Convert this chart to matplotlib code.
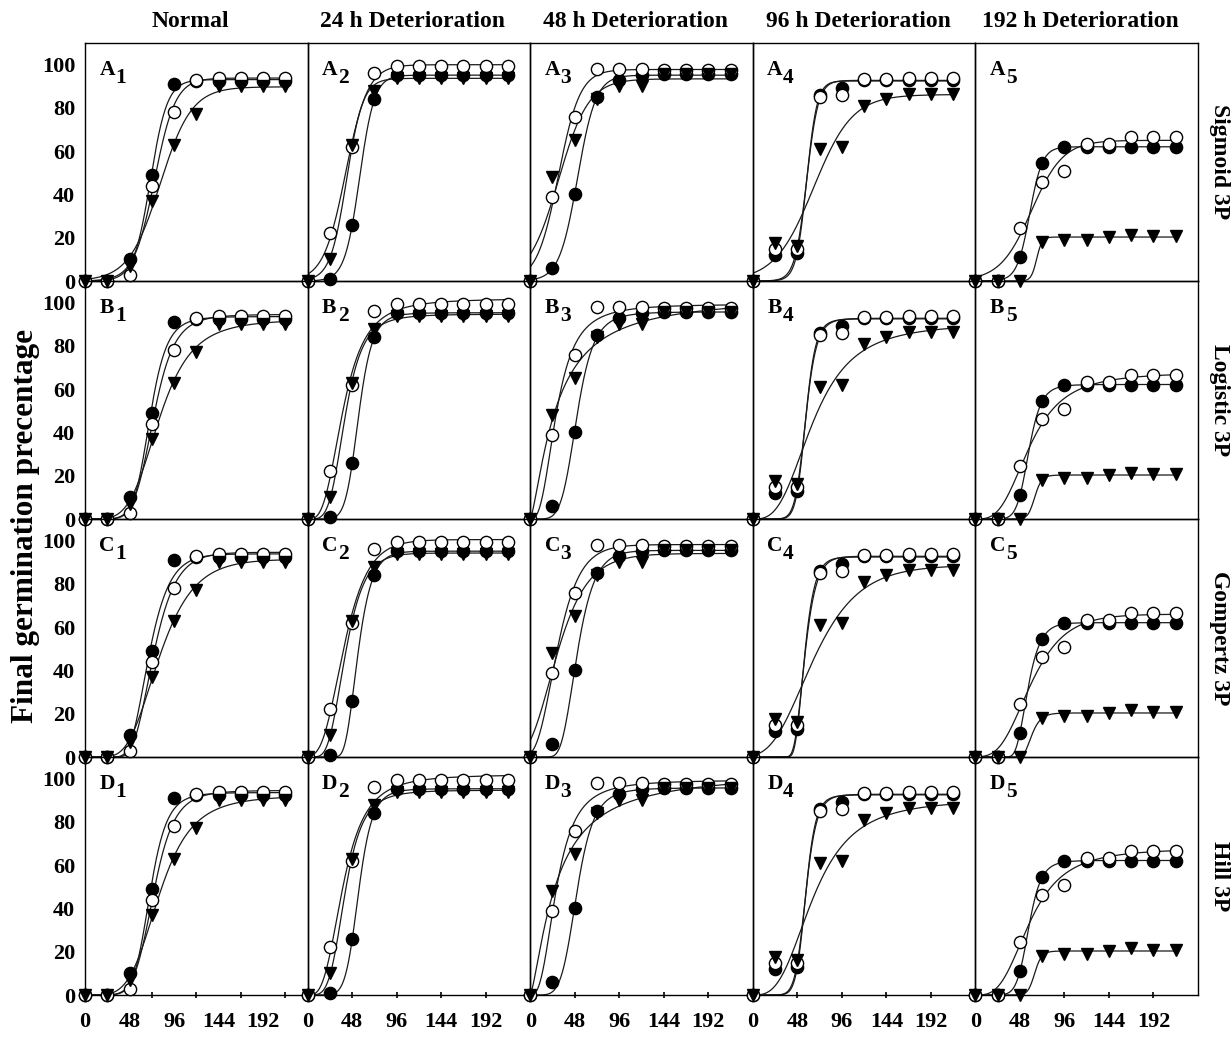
import numpy as np
import matplotlib
matplotlib.use("Agg")
import matplotlib.pyplot as plt
from matplotlib.gridspec import GridSpec
from matplotlib.transforms import offset_copy

plt.rcParams['font.family'] = 'Liberation Serif'
plt.rcParams['font.weight'] = 'bold'

hours = np.array([0, 24, 48, 72, 96, 120, 144, 168, 192, 216])

col_titles = ["Normal", "24 h Deterioration", "48 h Deterioration",
              "96 h Deterioration", "192 h Deterioration"]
row_models = ["Sigmoid 3P", "Logistic 3P", "Gompertz 3P", "Hill 3P"]
row_letters = ["A", "B", "C", "D"]

# filled circles
filled_normal = [0, 0, 10, 49, 91, 92.5, 92.5, 92.5, 92.5, 92.5]
filled_24h = [0, 1, 26, 84, 95, 95, 95, 95, 95, 95]
filled_48h = [0, 6, 40, 85, 93, 95, 95.5, 95.5, 95.5, 95.5]
filled_96h = [0, 12, 13, 86, 89, 93, 93, 93, 93, 93]
filled_192h = [0, 0, 11, 54.5, 62, 62, 62, 62, 62, 62]

# open circles
open_normal = [0, 0, 3, 44, 78, 93, 94, 94, 94, 94]
open_24h = [0, 22, 62, 96, 99.5, 99.5, 99.5, 99.5, 99.5, 99.5]
open_48h = [0, 39, 76, 98, 98, 98, 97.5, 97.5, 97.5, 97.5]
open_96h = [0, 15, 15, 85, 86, 93.5, 93.5, 94, 94, 94]
open_192h = [0, 0, 24.5, 46, 51, 63.5, 63.5, 66.5, 66.5, 66.5]

# filled down-triangles
tri_normal = [0, 0, 7, 37, 63, 77, 90, 90, 90, 90]
tri_24h = [0, 10, 63, 88, 94, 94, 94, 94, 94, 94]
tri_48h = [0, 48, 65, 84, 90, 90, 95.5, 95.5, 95.5, 95.5]
tri_96h = [0, 17.5, 16, 61, 62, 81, 84, 86.5, 86.5, 86.5]
tri_192h = [0, 0, 0, 18, 19, 19, 20.5, 21.5, 21, 21]

filled = [filled_normal, filled_24h, filled_48h, filled_96h, filled_192h]
opened = [open_normal, open_24h, open_48h, open_96h, open_192h]
tris = [tri_normal, tri_24h, tri_48h, tri_96h, tri_192h]


# ---- 3-parameter models, fitted to the points by a simple grid search ----
def sigmoid(x, x0, b):
    return 1.0 / (1.0 + np.exp(-(x - x0) / b))


def gompertz(x, x0, b):
    return np.exp(-np.exp(-(x - x0) / b))


def hill(x, c, b):
    return x**b / (c**b + x**b)


models = [(sigmoid, np.geomspace(2.5, 60, 200)),
          (hill, np.geomspace(1.0, 25, 200)),       # SigmaPlot Logistic 3P
          (gompertz, np.geomspace(2.5, 60, 200)),
          (hill, np.geomspace(1.0, 25, 200))]
centres = np.arange(5, 160, 0.5)


def fit(y, shape, slopes):
    y = np.asarray(y, float)
    P1, P2 = np.meshgrid(centres, slopes, indexing="ij")
    G = shape(hours[None, None, :].astype(float), P1[..., None], P2[..., None])
    A = (G * y).sum(-1) / (G * G).sum(-1)
    sse = ((A[..., None] * G - y) ** 2).sum(-1)
    i = np.unravel_index(np.argmin(sse), sse.shape)
    return A[i], P1[i], P2[i]


fig = plt.figure(figsize=(12.32, 10.37), dpi=100)
gs = GridSpec(4, 5, left=0.069, right=0.9724, top=0.9585, bottom=0.0405,
              wspace=0, hspace=0)

xs = np.linspace(0, 216, 400)
styles = [(filled, "o", "black", 8.8, 3),
          (opened, "o", "white", 8.8, 4),
          (tris, "v", "black", 9.3, 5)]

for r in range(4):
    shape, slopes = models[r]
    for c in range(5):
        ax = fig.add_subplot(gs[r, c])
        ax.set_facecolor("none")

        for series, mk, fc, ms, z in styles:
            a, p1, p2 = fit(series[c], shape, slopes)
            ax.plot(xs, a * shape(xs, p1, p2), color="#1a1a1a", lw=0.9, zorder=2)
            ax.plot(hours, series[c], ls="none", marker=mk, ms=ms, mfc=fc,
                    mec="black", mew=1.0, clip_on=False, zorder=z)

        ax.set_xlim(0, 240)
        ax.set_ylim(0, 110)
        for sp in ax.spines.values():
            sp.set_linewidth(1.0)

        ax.set_yticks([0, 20, 40, 60, 80, 100])
        ax.tick_params(axis="y", length=0, pad=7, labelsize=16,
                       labelleft=(c == 0))

        if r == 3:
            ax.set_xticks([0, 48, 96, 144, 192])
            ax.tick_params(axis="x", direction="inout", length=5, width=1.2,
                           pad=10, labelsize=16)
            if c == 0:
                # the first panel has its tick marks offset from the labels
                ax.tick_params(axis="x", which="major", length=0, pad=12.5)
                ax.set_xticks([72, 120, 168, 216], minor=True)
                ax.tick_params(axis="x", which="minor", direction="inout",
                               length=5, width=1.2)
        else:
            ax.set_xticks([])

        # panel label, e.g. A1 with the number dropped
        ax.text(0.065, 0.93, row_letters[r], transform=ax.transAxes,
                fontsize=15.5, fontweight="bold", va="top", ha="left", zorder=6)
        sub = offset_copy(ax.transAxes, fig=fig, x=11.5, y=-6, units="points")
        ax.text(0.065, 0.93, str(c + 1), transform=sub,
                fontsize=15.5, fontweight="bold", va="top", ha="left", zorder=6)

# column titles
for c, title in enumerate(col_titles):
    pos = gs[0, c].get_position(fig)
    fig.text((pos.x0 + pos.x1) / 2 - 0.005, 0.979, title, ha="center",
             va="center", fontsize=17, fontweight="bold")

# model names on the right
for r, name in enumerate(row_models):
    pos = gs[r, 4].get_position(fig)
    fig.text(0.9895, (pos.y0 + pos.y1) / 2, name, ha="center", va="center",
             rotation=-90, fontsize=17, fontweight="bold")

fig.text(0.021, 0.493, "Final germination precentage", rotation=90,
         ha="center", va="center", fontsize=22.5, fontweight="bold")

fig.savefig("out.png", dpi=100, facecolor="white")
